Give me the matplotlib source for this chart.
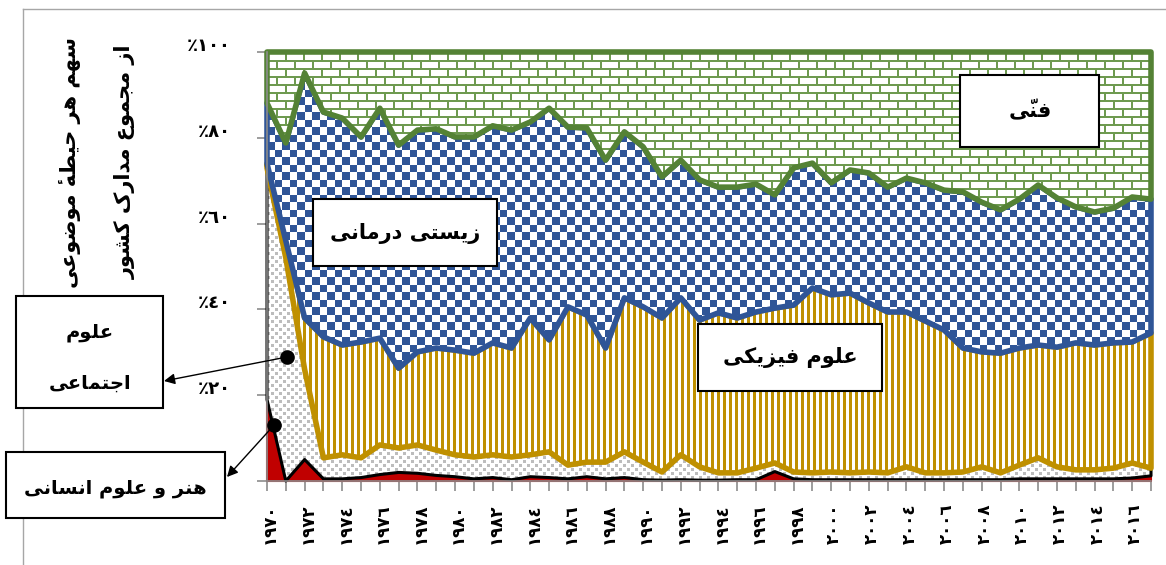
import numpy as np
import matplotlib
matplotlib.use("Agg")
import matplotlib.pyplot as plt
from matplotlib.colors import to_rgb
from matplotlib.patches import Polygon, Rectangle
from matplotlib.lines import Line2D
from matplotlib.transforms import ScaledTranslation

plt.rcParams['font.family'] = ['DejaVu Sans']
plt.rcParams['font.weight'] = 'bold'

# ---- data (percent share of each field) ----
years = np.arange(1970, 2018)

honar = [19, 0, 5, 0.5, 0.5, 0.8, 1.5, 2.0, 1.8, 1.3,
         1.0, 0.5, 0.8, 0.3, 1.0, 0.8, 0.5, 1.0, 0.5, 0.8,
         0.3, 0.2, 0.3, 0.2, 0.2, 0.3, 0.3, 2.2, 0.5, 0.3,
         0.3, 0.3, 0.3, 0.3, 0.3, 0.3, 0.3, 0.3, 0.3, 0.3,
         0.5, 0.5, 0.5, 0.5, 0.5, 0.5, 0.7, 1.2]
ejtemaei = [54, 52, 21, 4.9, 5.6, 4.6, 6.9, 5.7, 6.6, 5.9,
            5.1, 5.1, 5.3, 5.3, 5.1, 6.0, 3.2, 3.4, 3.9, 6.0,
            4.1, 1.9, 5.8, 3.1, 1.7, 1.6, 2.7, 2.0, 1.6, 1.6,
            1.8, 1.6, 1.8, 1.6, 3.0, 1.6, 1.6, 1.8, 3.0, 1.6,
            3.2, 4.9, 2.8, 2.1, 2.1, 2.5, 3.5, 1.8]
fizik = [1, 4, 12, 28.2, 25.6, 27.0, 24.9, 18.6, 21.7, 23.8,
         24.4, 24.2, 26.1, 25.4, 31.9, 26.1, 36.9, 34.3, 26.6, 35.9,
         36.2, 35.9, 36.6, 34.2, 37.3, 36.1, 36.4, 36.1, 38.9, 43.1,
         41.3, 41.9, 39.4, 37.5, 36.1, 35.4, 33.3, 28.9, 26.8, 27.9,
         27.3, 26.3, 27.9, 29.6, 29.1, 29.2, 28.2, 31.5]
zisti = [14.1, 22.8, 57.1, 52.4, 52.9, 47.8, 53.6, 52.0, 51.7, 51.1,
         49.7, 50.4, 50.6, 50.8, 45.7, 54.0, 41.9, 43.6, 43.8, 38.7,
         37.3, 32.9, 32.1, 32.7, 29.3, 30.5, 29.8, 26.4, 32.0, 29.1,
         26.1, 28.7, 30.3, 29.1, 31.2, 32.2, 32.6, 36.4, 34.9, 33.4,
         34.7, 37.3, 34.8, 31.7, 31.0, 31.4, 33.8, 31.2]
fanni = [11.9, 21.2, 4.9, 14.0, 15.4, 19.8, 13.1, 21.7, 18.2, 17.9,
         19.8, 19.8, 17.2, 18.2, 16.3, 13.1, 17.5, 17.7, 25.2, 18.6,
         22.1, 29.1, 25.2, 29.8, 31.5, 31.5, 30.8, 33.3, 27.0, 25.9,
         30.5, 27.5, 28.2, 31.5, 29.4, 30.5, 32.2, 32.6, 35.0, 36.8,
         34.3, 31.0, 34.0, 36.1, 37.3, 36.4, 33.8, 34.3]

yticks = [0, 20, 40, 60, 80, 100]
box_labels = ['هنر و علوم انسانی', 'علوم اجتماعی', 'علوم فیزیکی', 'زیستی درمانی', 'فنّی']
ylabel_lines = ['سهم هر حیطهٔ موضوعی', 'از مجموع مدارک کشور']

# ---- simple persian shaping (matplotlib has no RTL / joining) ----
FORMS = {
    'ا': ('\uFE8D', '\uFE8E', None, None),
    'ت': ('\uFE95', '\uFE96', '\uFE97', '\uFE98'),
    'ج': ('\uFE9D', '\uFE9E', '\uFE9F', '\uFEA0'),
    'ح': ('\uFEA1', '\uFEA2', '\uFEA3', '\uFEA4'),
    'د': ('\uFEA9', '\uFEAA', None, None),
    'ر': ('\uFEAD', '\uFEAE', None, None),
    'ز': ('\uFEAF', '\uFEB0', None, None),
    'س': ('\uFEB1', '\uFEB2', '\uFEB3', '\uFEB4'),
    'ش': ('\uFEB5', '\uFEB6', '\uFEB7', '\uFEB8'),
    'ض': ('\uFEBD', '\uFEBE', '\uFEBF', '\uFEC0'),
    'ط': ('\uFEC1', '\uFEC2', '\uFEC3', '\uFEC4'),
    'ع': ('\uFEC9', '\uFECA', '\uFECB', '\uFECC'),
    'ف': ('\uFED1', '\uFED2', '\uFED3', '\uFED4'),
    'ل': ('\uFEDD', '\uFEDE', '\uFEDF', '\uFEE0'),
    'م': ('\uFEE1', '\uFEE2', '\uFEE3', '\uFEE4'),
    'ن': ('\uFEE5', '\uFEE6', '\uFEE7', '\uFEE8'),
    'ه': ('\uFEE9', '\uFEEA', '\uFEEB', '\uFEEC'),
    'و': ('\uFEED', '\uFEEE', None, None),
    'ی': ('\uFBFC', '\uFBFD', '\uFBFE', '\uFBFF'),
    'ک': ('\uFB8E', '\uFB8F', '\uFB90', '\uFB91'),
}
MARKS = '\u0651\u0654'


def fa(text):
    base = [i for i, c in enumerate(text) if c not in MARKS]
    clusters = []
    for k, i in enumerate(base):
        c = text[i]
        g = c
        if c in FORMS:
            p = text[base[k - 1]] if k > 0 else None
            n = text[base[k + 1]] if k + 1 < len(base) else None
            jp = p in FORMS and FORMS[p][2] is not None
            jn = FORMS[c][2] is not None and n in FORMS
            idx = 3 if (jp and jn) else 1 if jp else 2 if jn else 0
            g = FORMS[c][idx]
        end = base[k + 1] if k + 1 < len(base) else len(text)
        # zero-width mark goes first so it sits over its own letter
        clusters.append(text[i + 1:end] + g)
    return ''.join(clusters[::-1])


digits = str.maketrans('0123456789', '٠١٢٣٤٥٦٧٨٩')

# ---- figure ----
W, H = 1166, 565
fig = plt.figure(figsize=(W / 100, H / 100), dpi=100)
ax = fig.add_axes([267 / W, 1 - 481 / H, 884 / W, 429 / H])
ax.set_xlim(1970, 2017)
ax.set_ylim(0, 100)

# fill patterns, one pixel per screen pixel of the axes
pw, ph = 884, 429
yy, xx = np.mgrid[0:ph, 0:pw]


def paint(mask, fg):
    img = np.ones((ph, pw, 3))
    img[mask] = to_rgb(fg)
    return img


dots = (((yy // 4) + (xx // 4)) % 2 == 0) & ((yy % 4) < 3) & ((xx % 4) < 3)
stripes = (xx % 6) < 3
checker = ((xx // 7.5).astype(int) + (yy // 7.5).astype(int)) % 2 == 0
r = yy // 8
bricks = ((yy % 8) < 2) | (((xx + (r % 2) * 9) % 18) < 2)

series = [honar, ejtemaei, fizik, zisti, fanni]
fills = [None, paint(dots, '#BDBDBD'), paint(stripes, '#BF9000'),
         paint(checker, '#2F5597'), paint(bricks, '#6E9A50')]
edges = ['#C00000', 'black', '#BF9000', '#2F5597', '#548235']
widths = [1.5, 2.2, 4, 4, 4]

stack = np.cumsum(np.vstack(series), axis=0)
lower = np.vstack([np.zeros(len(years)), stack[:-1]])

for k in range(5):
    verts = np.column_stack([np.concatenate([years, years[::-1]]),
                             np.concatenate([stack[k], lower[k][::-1]])])
    z = 2 + 2 * k
    if fills[k] is None:
        poly = Polygon(verts, closed=True, facecolor='#C00000', edgecolor=edges[k],
                       lw=widths[k], joinstyle='round', zorder=z + 1, clip_on=False)
        ax.add_patch(poly)
    else:
        poly = Polygon(verts, closed=True, facecolor='none', edgecolor=edges[k],
                       lw=widths[k], joinstyle='round', zorder=z + 1, clip_on=False)
        ax.add_patch(poly)
        im = ax.imshow(fills[k], extent=(1970, 2017, 0, 100), aspect='auto',
                       interpolation='nearest', zorder=z)
        im.set_clip_path(poly)

# ---- axes styling ----
for s in ['top', 'right']:
    ax.spines[s].set_visible(False)
for s in ['left', 'bottom']:
    ax.spines[s].set_color('#8C8C8C')
    ax.spines[s].set_linewidth(1.2)
    ax.spines[s].set_zorder(20)

ax.set_yticks(yticks)
ax.set_yticklabels(['٪' + str(v).translate(digits) for v in yticks])
ax.tick_params(axis='y', length=7, width=1.2, color='#8C8C8C', pad=19, labelsize=13)
for lbl in ax.get_yticklabels():
    lbl.set_transform(lbl.get_transform() + ScaledTranslation(0, 0.08, fig.dpi_scale_trans))

ax.set_xticks(years)
ax.set_xticklabels([str(y).translate(digits) if y % 2 == 0 else '' for y in years],
                   rotation=90, va='top', ha='center')
ax.tick_params(axis='x', length=7, width=1.2, color='#8C8C8C', pad=9, labelsize=12)
for lbl in ax.get_xticklabels():
    lbl.set_transform(lbl.get_transform() + ScaledTranslation(0.03, 0, fig.dpi_scale_trans))


def fx(x):
    return x / W


def fy(y):
    return 1 - y / H


# outer chart frame (left and top edges visible)
fig.add_artist(Line2D([fx(23), fx(23)], [fy(9), 0], color='#A6A6A6', lw=1, transform=fig.transFigure))
fig.add_artist(Line2D([fx(23), 1], [fy(9), fy(9)], color='#A6A6A6', lw=1, transform=fig.transFigure))

# y axis title
fig.text(fx(70), fy(162), fa(ylabel_lines[0]), rotation=90, ha='center', va='center', fontsize=15)
fig.text(fx(125), fy(162), fa(ylabel_lines[1]), rotation=90, ha='center', va='center', fontsize=15)


def box(x0, y0, x1, y1):
    fig.add_artist(Rectangle((fx(x0), fy(y1)), fx(x1) - fx(x0), fy(y0) - fy(y1),
                             transform=fig.transFigure, facecolor='white',
                             edgecolor='black', lw=1.5, zorder=5))


box(6, 452, 225, 518)
fig.text(fx(115), fy(488), fa(box_labels[0]), ha='center', va='center', fontsize=14, zorder=6)
box(16, 296, 163, 408)
w1, w2 = box_labels[1].split(' ')
fig.text(fx(90), fy(333), fa(w1), ha='center', va='center', fontsize=14, zorder=6)
fig.text(fx(90), fy(383), fa(w2), ha='center', va='center', fontsize=14, zorder=6)
box(698, 324, 882, 391)
fig.text(fx(790), fy(357), fa(box_labels[2]), ha='center', va='center', fontsize=15, zorder=6)
box(313, 199, 497, 266)
fig.text(fx(405), fy(233), fa(box_labels[3]), ha='center', va='center', fontsize=15, zorder=6)
box(960, 75, 1099, 147)
fig.text(fx(1030), fy(111), fa(box_labels[4]), ha='center', va='center', fontsize=15, zorder=6)

# pointers from the areas to their boxes
pts = [(1971.06, 28.9, 164, 381), (1970.37, 13.0, 227, 477)]
for px, py, tx, ty in pts:
    ax.plot(px, py, 'o', color='black', ms=9.5, zorder=30, clip_on=False)
    ax.annotate('', xy=(fx(tx), fy(ty)), xycoords='figure fraction',
                xytext=(px, py), textcoords='data',
                arrowprops=dict(arrowstyle='-|>', color='black', lw=1,
                                mutation_scale=16, shrinkA=0, shrinkB=0),
                zorder=30, annotation_clip=False)

fig.savefig('out.png', dpi=100)
